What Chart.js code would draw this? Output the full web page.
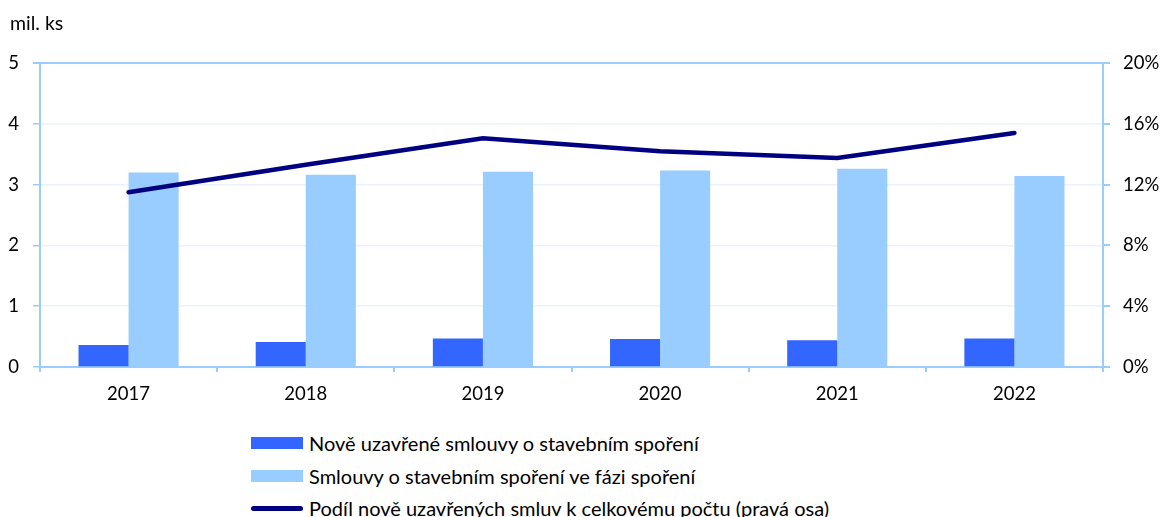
<!DOCTYPE html>
<html>
<head>
<meta charset="utf-8">
<script src="https://cdn.jsdelivr.net/npm/chart.js@4"></script>
<style>
  html, body { margin: 0; padding: 0; background: #fff; }
  #wrap { position: relative; width: 1163px; height: 517px; font-family: Lato, sans-serif; }
  #unit { position: absolute; left: 10px; top: 10px; font-size: 19.5px; line-height: 26px; color: #000; }
  #chartbox { position: absolute; left: 0; top: 0; width: 1163px; height: 420px; }
  #legend { position: absolute; left: 251px; top: 427px; font-size: 20px; color: #000; }
  .item { height: 32.5px; display: flex; align-items: center; }
  .sw { width: 52px; margin-right: 6px; }
</style>
</head>
<body>
<div id="wrap">
  <div id="chartbox"><canvas id="mainchart" width="1163" height="420"></canvas></div>
  <div id="unit">mil. ks</div>
  <div id="legend"></div>
</div>
<script>
const years = ["2017", "2018", "2019", "2020", "2021", "2022"];
const newContracts = [0.36, 0.41, 0.47, 0.46, 0.44, 0.47];
const savingContracts = [3.2, 3.16, 3.21, 3.23, 3.26, 3.14];
const shareNew = [11.5, 13.3, 15.05, 14.2, 13.75, 15.4];
const leftTicks = [0, 1, 2, 3, 4, 5];
const rightTicks = [0, 4, 8, 12, 16, 20];

const axisColor = "#99ccff";
const gridColor = "#e8f3fd";
const tickFont = { family: "Lato", size: 18.5 };

const chartdisplay = new Chart(document.getElementById("mainchart"), {
  type: "bar",
  data: {
    labels: years,
    datasets: [
      {
        label: "Nově uzavřené smlouvy o stavebním spoření",
        backgroundColor: "#3366ff",
        data: newContracts,
        yAxisID: "y",
        order: 2,
      },
      {
        label: "Smlouvy o stavebním spoření ve fázi spoření",
        backgroundColor: "#99ccff",
        data: savingContracts,
        yAxisID: "y",
        order: 2,
      },
      {
        type: "line",
        label: "Podíl nově uzavřených smluv k celkovému počtu (pravá osa)",
        borderColor: "#000080",
        backgroundColor: "#000080",
        borderWidth: 4.5,
        pointRadius: 0,
        borderCapStyle: "round",
        data: shareNew,
        yAxisID: "y2",
        order: 1,
      },
    ],
  },
  options: {
    responsive: false,
    animation: false,
    layout: { padding: { top: 63, left: 0, right: 0, bottom: 0 } },
    plugins: { legend: { display: false }, tooltip: { enabled: false } },
    datasets: { bar: { categoryPercentage: 0.565, barPercentage: 1 } },
    scales: {
      x: {
        grid: { offset: true, drawOnChartArea: false, color: axisColor, tickLength: 5, lineWidth: 2 },
        border: { color: axisColor, width: 2 },
        ticks: { color: "#000", font: tickFont, padding: 11 },
        afterFit: (s) => { s.height = 53; },
      },
      y: {
        position: "left",
        min: 0,
        max: 5,
        afterBuildTicks: (s) => { s.ticks = leftTicks.map((v) => ({ value: v })); },
        grid: {
          color: (c) => (c.tick && c.tick.value === 5 ? axisColor : gridColor),
          lineWidth: (c) => (c.tick && c.tick.value === 5 ? 2 : 1.5),
          tickColor: axisColor,
          tickLength: 7,
        },
        border: { color: axisColor, width: 2 },
        ticks: { color: "#000", font: tickFont, padding: 14 },
        afterFit: (s) => { s.width = 40; },
      },
      y2: {
        position: "right",
        min: 0,
        max: 20,
        afterBuildTicks: (s) => { s.ticks = rightTicks.map((v) => ({ value: v })); },
        grid: { drawOnChartArea: false, color: axisColor, tickLength: 7, lineWidth: 2 },
        border: { color: axisColor, width: 2 },
        ticks: { color: "#000", font: tickFont, padding: 13, callback: (v) => v + "%" },
        afterFit: (s) => { s.width = 60; },
      },
    },
  },
});

// legend built from the chart datasets
const legend = document.getElementById("legend");
chartdisplay.data.datasets.forEach((ds) => {
  const row = document.createElement("div");
  row.className = "item";
  const sw = document.createElement("span");
  sw.className = "sw";
  if (ds.type === "line") {
    sw.style.height = "5px";
    sw.style.borderRadius = "3px";
    sw.style.background = ds.borderColor;
  } else {
    sw.style.height = "12px";
    sw.style.background = ds.backgroundColor;
  }
  const txt = document.createElement("span");
  txt.textContent = ds.label;
  row.appendChild(sw);
  row.appendChild(txt);
  legend.appendChild(row);
});
</script>
</body>
</html>
